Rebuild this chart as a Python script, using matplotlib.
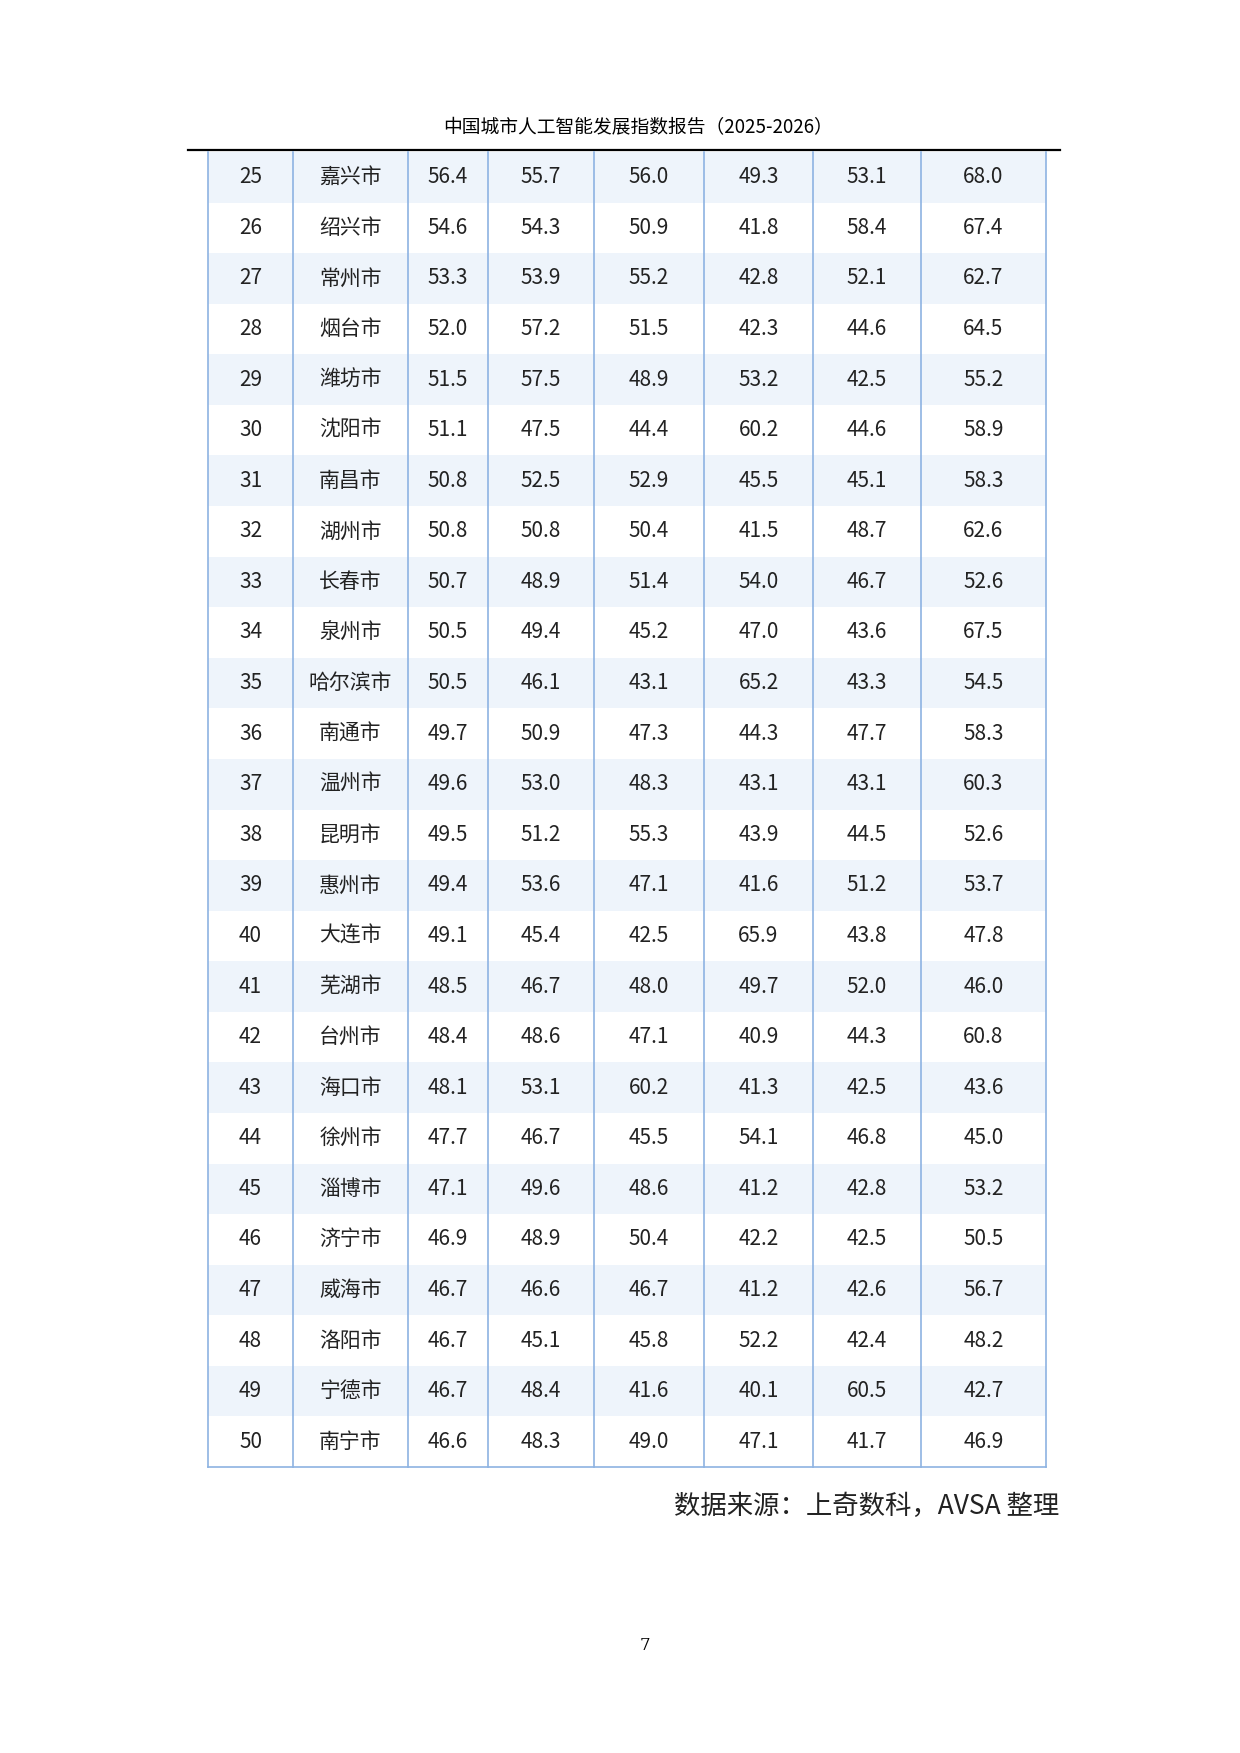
import matplotlib.pyplot as plt
from matplotlib.patches import Rectangle

plt.rcParams['font.family'] = ['Noto Sans CJK SC', 'DejaVu Sans']

ranks = list(range(25, 51))
cities = ['嘉兴市', '绍兴市', '常州市', '烟台市', '潍坊市', '沈阳市', '南昌市', '湖州市', '长春市',
          '泉州市', '哈尔滨市', '南通市', '温州市', '昆明市', '惠州市', '大连市', '芜湖市', '台州市',
          '海口市', '徐州市', '淄博市', '济宁市', '威海市', '洛阳市', '宁德市', '南宁市']
col1 = [56.4, 54.6, 53.3, 52.0, 51.5, 51.1, 50.8, 50.8, 50.7, 50.5, 50.5, 49.7, 49.6, 49.5, 49.4,
        49.1, 48.5, 48.4, 48.1, 47.7, 47.1, 46.9, 46.7, 46.7, 46.7, 46.6]
col2 = [55.7, 54.3, 53.9, 57.2, 57.5, 47.5, 52.5, 50.8, 48.9, 49.4, 46.1, 50.9, 53.0, 51.2, 53.6,
        45.4, 46.7, 48.6, 53.1, 46.7, 49.6, 48.9, 46.6, 45.1, 48.4, 48.3]
col3 = [56.0, 50.9, 55.2, 51.5, 48.9, 44.4, 52.9, 50.4, 51.4, 45.2, 43.1, 47.3, 48.3, 55.3, 47.1,
        42.5, 48.0, 47.1, 60.2, 45.5, 48.6, 50.4, 46.7, 45.8, 41.6, 49.0]
col4 = [49.3, 41.8, 42.8, 42.3, 53.2, 60.2, 45.5, 41.5, 54.0, 47.0, 65.2, 44.3, 43.1, 43.9, 41.6,
        65.9, 49.7, 40.9, 41.3, 54.1, 41.2, 42.2, 41.2, 52.2, 40.1, 47.1]
col5 = [53.1, 58.4, 52.1, 44.6, 42.5, 44.6, 45.1, 48.7, 46.7, 43.6, 43.3, 47.7, 43.1, 44.5, 51.2,
        43.8, 52.0, 44.3, 42.5, 46.8, 42.8, 42.5, 42.6, 42.4, 60.5, 41.7]
col6 = [68.0, 67.4, 62.7, 64.5, 55.2, 58.9, 58.3, 62.6, 52.6, 67.5, 54.5, 58.3, 60.3, 52.6, 53.7,
        47.8, 46.0, 60.8, 43.6, 45.0, 53.2, 50.5, 56.7, 48.2, 42.7, 46.9]

xs = [208, 293, 408, 488, 594, 704, 813, 921, 1046]
top, bottom = 152, 1467
rh = (bottom - top) / len(ranks)
line_c = '#8db3e2'

fig = plt.figure(figsize=(12.4, 17.53), dpi=100)
ax = fig.add_axes([0, 0, 1, 1])
ax.set_xlim(0, 1240)
ax.set_ylim(1753, 0)
ax.axis('off')

ax.text(638, 128, '中国城市人工智能发展指数报告（2025-2026）', ha='center', va='center', fontsize=13.5)
ax.plot([188, 1060], [150, 150], color='black', lw=1.6)

for i, r in enumerate(ranks):
    y0 = top + i * rh
    if i % 2 == 0:
        ax.add_patch(Rectangle((xs[0], y0), xs[-1] - xs[0], rh, color='#eef4fb', lw=0))
    yc = y0 + rh / 2
    cells = [str(r), cities[i]] + ['%.1f' % c[i] for c in (col1, col2, col3, col4, col5, col6)]
    for j, t in enumerate(cells):
        ax.text((xs[j] + xs[j + 1]) / 2, yc, t, ha='center', va='center', fontsize=15,
                color='#222222')

for x in xs:
    ax.plot([x, x], [top, bottom], color=line_c, lw=1.2)
ax.plot([xs[0], xs[-1]], [bottom, bottom], color=line_c, lw=1.2)

ax.text(1059, 1506, '数据来源：上奇数科，AVSA 整理', ha='right', va='center', fontsize=19,
        color='#222222')
ax.text(645, 1645, '7', ha='center', va='center', fontsize=12, family='DejaVu Serif')

fig.savefig('out.png', dpi=100)
